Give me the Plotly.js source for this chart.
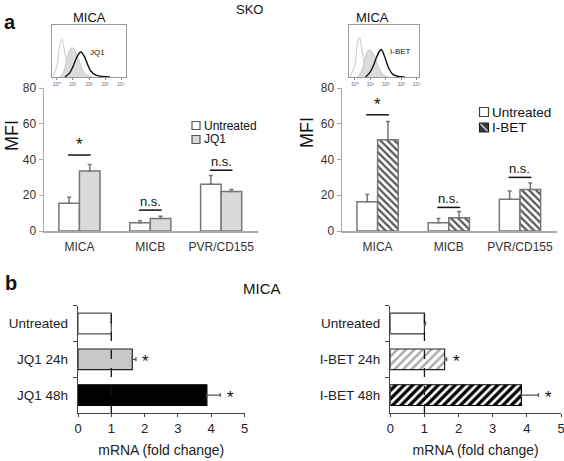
<!DOCTYPE html>
<html>
<head>
<meta charset="utf-8">
<script src="https://cdn.plot.ly/plotly-3.0.1.min.js"></script>
<style>html,body{margin:0;padding:0;background:#fff}#chart{width:564px;height:461px}</style>
</head>
<body>
<div id="chart"></div>
<script>
// ---------- data ----------
var markers = ['MICA', 'MICB', 'PVR/CD155'];
var untreatedA = [15.5, 4.6, 26.2];
var untreatedAErr = [3.4, 1.2, 4.8];
var jq1 = [33.5, 7.0, 22.1];
var jq1Err = [3.7, 1.3, 1.1];
var untreatedB = [16.3, 4.6, 17.8];
var untreatedBErr = [4.1, 2.4, 4.6];
var ibet = [51.0, 7.4, 23.2];
var ibetErr = [10.3, 3.5, 3.6];
var sigLabelsA = ['*', 'n.s.', 'n.s.'];
var sigLevelA = [42.5, 11.7, 34.0];
var sigLabelsB = ['*', 'n.s.', 'n.s.'];
var sigLevelB = [65.0, 13.2, 30.0];

var mrnaJQ1Cats = ['Untreated', 'JQ1 24h', 'JQ1 48h'];
var mrnaJQ1 = [1.0, 1.63, 3.87];
var mrnaJQ1Err = [0.0, 0.11, 0.40];
var mrnaJQ1Sig = ['', '*', '*'];
var mrnaIBETCats = ['Untreated', 'I-BET 24h', 'I-BET 48h'];
var mrnaIBET = [1.0, 1.59, 3.84];
var mrnaIBETErr = [0.03, 0.06, 0.50];
var mrnaIBETSig = ['', '*', '*'];

// flow histograms (log10 fluorescence, relative counts)
var histIsoA_x = [-0.25, 0.0, 0.15, 0.3, 0.45, 0.6, 0.8, 1.0, 1.25, 1.6];
var histIsoA_y = [0.0, 0.2, 0.55, 0.73, 0.55, 0.3, 0.12, 0.04, 0.01, 0.0];
var histUntA_x = [0.2, 0.45, 0.65, 0.85, 1.0, 1.2, 1.4, 1.6, 1.85, 2.2];
var histUntA_y = [0.0, 0.12, 0.38, 0.54, 0.56, 0.46, 0.3, 0.14, 0.04, 0.0];
var histJQ1_x = [0.5, 0.8, 1.0, 1.2, 1.4, 1.5, 1.7, 1.9, 2.1, 2.4, 2.8, 3.3];
var histJQ1_y = [0.0, 0.08, 0.2, 0.35, 0.46, 0.48, 0.4, 0.25, 0.12, 0.04, 0.01, 0.0];
var histIsoB_x = [-0.3, 0.0, 0.15, 0.3, 0.45, 0.6, 0.8, 1.0, 1.25, 1.6];
var histIsoB_y = [0.0, 0.22, 0.6, 0.76, 0.55, 0.3, 0.12, 0.04, 0.01, 0.0];
var histUntB_x = [0.2, 0.45, 0.65, 0.85, 1.0, 1.2, 1.4, 1.6, 1.85, 2.2];
var histUntB_y = [0.0, 0.12, 0.35, 0.5, 0.52, 0.44, 0.3, 0.14, 0.04, 0.0];
var histIBET_x = [0.7, 1.0, 1.2, 1.4, 1.6, 1.7, 1.85, 2.0, 2.2, 2.45, 2.8, 3.2];
var histIBET_y = [0.0, 0.1, 0.22, 0.38, 0.5, 0.53, 0.45, 0.32, 0.16, 0.05, 0.01, 0.0];
var decadeVals = [0, 1, 2, 3, 4];
var decadeText = ['10⁰', '10¹', '10²', '10³', '10⁴'];

// ---------- helpers ----------
var W = 564, H = 461;
function px(x) { return x / W; }
function py(y) { return 1 - y / H; }
var FONT = 'Liberation Sans, Arial, Helvetica, sans-serif';
function zeros(a) { return a.map(function () { return 0; }); }

var barLine = {color: '#777', width: 1.5};
var errTop = function (arr) {
  return {type: 'data', array: arr, arrayminus: zeros(arr), symmetric: false,
          color: '#777', thickness: 1.5, width: 2};
};
function errRight(arr, color) {
  return {type: 'data', array: arr, arrayminus: zeros(arr), symmetric: false,
          color: color || '#555', thickness: 1.3, width: 2};
}

// I-BET mRNA bars, one trace per bar so each gets its own hatch
var ibetStyles = [
  {fill: '#fff', line: '#333', pattern: null},
  {fill: '#fff', line: '#222', pattern: {shape: '/', fgcolor: '#a8a8a8', bgcolor: '#fff', size: 6, solidity: 0.4}},
  {fill: '#fff', line: '#000', pattern: {shape: '/', fgcolor: '#000', bgcolor: '#fff', size: 6, solidity: 0.55}}
];
var ibetTraces = mrnaIBETCats.map(function (c, i) {
  var mk = {color: ibetStyles[i].fill, line: {color: ibetStyles[i].line, width: 1.2}};
  if (ibetStyles[i].pattern) mk.pattern = ibetStyles[i].pattern;
  return {type: 'bar', orientation: 'h', y: [c], x: [mrnaIBET[i]], xaxis: 'x4', yaxis: 'y4', showlegend: false,
    offsetgroup: 'ibet', name: c, marker: mk, error_x: errRight([mrnaIBETErr[i]])};
});

var traces = [
  // panel a, JQ1
  {type: 'bar', x: markers, y: untreatedA, name: 'Untreated', xaxis: 'x', yaxis: 'y', showlegend: false,
   marker: {color: '#fff', line: barLine}, error_y: errTop(untreatedAErr)},
  {type: 'bar', x: markers, y: jq1, name: 'JQ1', xaxis: 'x', yaxis: 'y', showlegend: false,
   marker: {color: '#d9d9d9', line: barLine}, error_y: errTop(jq1Err)},
  // panel a, I-BET
  {type: 'bar', x: markers, y: untreatedB, name: 'Untreated', xaxis: 'x2', yaxis: 'y2', showlegend: false,
   marker: {color: '#fff', line: barLine}, error_y: errTop(untreatedBErr)},
  {type: 'bar', x: markers, y: ibet, name: 'I-BET', xaxis: 'x2', yaxis: 'y2', showlegend: false,
   marker: {color: '#fff', line: barLine,
            pattern: {shape: '\\', fgcolor: '#555', bgcolor: '#fff', size: 5, solidity: 0.45}},
   error_y: errTop(ibetErr)},
  // panel b, JQ1
  {type: 'bar', orientation: 'h', y: mrnaJQ1Cats, x: mrnaJQ1, xaxis: 'x3', yaxis: 'y3', showlegend: false,
   marker: {color: ['#fff', '#c8c8c8', '#000'], line: {color: ['#555', '#222', '#000'], width: 1.2}},
   error_x: errRight(mrnaJQ1Err)}
].concat(ibetTraces).concat([
  // insets
  {type: 'scatter', mode: 'lines', x: histIsoA_x, y: histIsoA_y, xaxis: 'x5', yaxis: 'y5', showlegend: false,
   line: {color: '#c8c8c8', width: 1, shape: 'spline'}},
  {type: 'scatter', mode: 'lines', x: histUntA_x, y: histUntA_y, xaxis: 'x5', yaxis: 'y5', showlegend: false,
   fill: 'tozeroy', fillcolor: '#dcdcdc', line: {color: '#c8c8c8', width: 1, shape: 'spline'}},
  {type: 'scatter', mode: 'lines', x: histJQ1_x, y: histJQ1_y, xaxis: 'x5', yaxis: 'y5', showlegend: false,
   line: {color: '#111', width: 1.4, shape: 'spline'}},
  {type: 'scatter', mode: 'lines', x: histIsoB_x, y: histIsoB_y, xaxis: 'x6', yaxis: 'y6', showlegend: false,
   line: {color: '#c8c8c8', width: 1, shape: 'spline'}},
  {type: 'scatter', mode: 'lines', x: histUntB_x, y: histUntB_y, xaxis: 'x6', yaxis: 'y6', showlegend: false,
   fill: 'tozeroy', fillcolor: '#dcdcdc', line: {color: '#c8c8c8', width: 1, shape: 'spline'}},
  {type: 'scatter', mode: 'lines', x: histIBET_x, y: histIBET_y, xaxis: 'x6', yaxis: 'y6', showlegend: false,
   line: {color: '#111', width: 1.4, shape: 'spline'}}
]);

var topY = {range: [0, 80], tickvals: [0, 20, 40, 60, 80], ticks: 'outside', ticklen: 4, tickcolor: '#aaa',
  showline: true, linecolor: '#aaa', linewidth: 1.5, showgrid: false, zeroline: false,
  tickfont: {size: 12, color: '#333'}};
var topX = {type: 'category', range: [-0.5, 2.52], showline: true, linecolor: '#aaa', linewidth: 1.5,
  ticks: '', showgrid: false, zeroline: false, tickfont: {size: 12, color: '#333'}, ticklabelstandoff: 4};
var botX = {range: [0, 5], tickvals: [0, 1, 2, 3, 4, 5], ticks: 'outside', ticklen: 3, tickcolor: '#444',
  showline: true, linecolor: '#444', linewidth: 1.2, showgrid: false, zeroline: false, ticklabeloverflow: 'allow',
  tickfont: {size: 13, color: '#222'}, title: {text: 'mRNA (fold change)', font: {size: 14, color: '#222'}, standoff: 10}};
var botY = {type: 'category', range: [2.5, -0.5], tickson: 'boundaries', ticks: 'outside', ticklen: 4,
  tickcolor: '#444', showline: true, linecolor: '#444', linewidth: 1.2, showgrid: false, zeroline: false,
  tickfont: {size: 13.5, color: '#222'}, ticklabelstandoff: 6};
var insetX = {tickvals: decadeVals, ticktext: decadeText, ticks: 'outside', ticklen: 2, tickcolor: '#888',
  showline: true, mirror: true, linecolor: '#999', linewidth: 1, showgrid: false, zeroline: false,
  tickfont: {size: 5, color: '#666'}, ticklabelstandoff: 0};
var insetY = {range: [0, 1], showticklabels: false, ticks: '', showline: true, mirror: true,
  linecolor: '#999', linewidth: 1, showgrid: false, zeroline: false};

function merge(a, b) { return Object.assign(JSON.parse(JSON.stringify(a)), b); }

var annotations = [];
var shapes = [];
function addSig(xref, yref, labels, levels) {
  labels.forEach(function (lab, i) {
    shapes.push({type: 'line', xref: xref, yref: yref, x0: i - 0.16, x1: i + 0.16, y0: levels[i], y1: levels[i],
      line: {color: '#111', width: 1.5}});
    annotations.push({xref: xref, yref: yref, x: i, y: levels[i], text: lab, showarrow: false,
      yanchor: 'bottom', yshift: -1, font: {family: FONT, size: lab === '*' ? 17 : 13, color: '#111'}});
  });
}
addSig('x', 'y', sigLabelsA, sigLevelA);
addSig('x2', 'y2', sigLabelsB, sigLevelB);
function addStars(xref, yref, labels, vals, errs) {
  labels.forEach(function (lab, i) {
    if (!lab) return;
    annotations.push({xref: xref, yref: yref, x: vals[i] + errs[i] + 0.3, y: i, text: lab, showarrow: false,
      font: {family: FONT, size: 17, color: '#111'}, yshift: -2});
  });
}
addStars('x3', 'y3', mrnaJQ1Sig, mrnaJQ1, mrnaJQ1Err);
addStars('x4', 'y4', mrnaIBETSig, mrnaIBET, mrnaIBETErr);
shapes.push({type: 'line', xref: 'x3', yref: 'y3 domain', x0: 1, x1: 1, y0: 0, y1: 1, line: {color: '#111', width: 1.3, dash: 'dash'}});
shapes.push({type: 'line', xref: 'x4', yref: 'y4 domain', x0: 1, x1: 1, y0: 0, y1: 1, line: {color: '#111', width: 1.3, dash: 'dash'}});

function txt(x, y, t, size, bold, anchor, angle) {
  annotations.push({xref: 'paper', yref: 'paper', x: px(x), y: py(y), text: bold ? '<b>' + t + '</b>' : t,
    showarrow: false, xanchor: anchor || 'center', yanchor: 'middle', textangle: angle || 0, borderpad: 0,
    font: {family: FONT, size: size, color: '#111'}});
}
txt(10, 22, 'a', 20, true);
txt(250, 10, 'SKO', 13);
txt(89, 17, 'MICA', 13);
txt(372, 17, 'MICA', 13);
txt(89, 53, 'JQ1', 8, false, 'left');
txt(389, 51, 'I-BET', 8, false, 'left');
txt(11, 283, 'b', 20, true);
txt(262, 288, 'MICA', 15);
// y-axis titles of panel a
txt(12, 136, 'MFI', 18, false, 'center', -90);
txt(307, 133, 'MFI', 18, false, 'center', -90);

// legends (drawn key boxes + text)
function legendBox(cx, cy, s, fill, line) {
  shapes.push({type: 'rect', xref: 'paper', yref: 'paper', x0: px(cx - s / 2), x1: px(cx + s / 2),
    y0: py(cy + s / 2), y1: py(cy - s / 2), fillcolor: fill, line: {color: line, width: 1.2}});
}
legendBox(196, 125.5, 8, '#fff', '#555');
legendBox(196, 139.5, 8, '#d9d9d9', '#555');
txt(203, 125.5, 'Untreated', 12, false, 'left');
txt(203, 139.5, 'JQ1', 12, false, 'left');
legendBox(484, 112, 9, '#fff', '#444');
legendBox(484, 127.5, 9, '#3a3a3a', '#222');
shapes.push({type: 'line', xref: 'paper', yref: 'paper', x0: px(480.5), x1: px(487.5), y0: py(124), y1: py(131),
  line: {color: '#ddd', width: 1.3}});
txt(491, 112, 'Untreated', 13.5, false, 'left');
txt(491, 127.5, 'I-BET', 13.5, false, 'left');

var layout = {
  width: W, height: H, margin: {l: 0, r: 0, t: 0, b: 0}, paper_bgcolor: '#fff', plot_bgcolor: 'rgba(0,0,0,0)',
  font: {family: FONT, color: '#222'}, showlegend: false,
  barmode: 'group', bargap: 0.42, bargroupgap: 0,
  xaxis: merge(topX, {domain: [px(44), px(258)], anchor: 'y'}),
  yaxis: merge(topY, {domain: [py(231), py(88)], anchor: 'x'}),
  xaxis2: merge(topX, {domain: [px(342), px(557)], anchor: 'y2'}),
  yaxis2: merge(topY, {domain: [py(231), py(88)], anchor: 'x2'}),
  xaxis3: merge(botX, {domain: [px(78), px(244.5)], anchor: 'y3'}),
  yaxis3: merge(botY, {domain: [py(413), py(305.7)], anchor: 'x3'}),
  xaxis4: merge(botX, {domain: [px(390.3), px(561)], anchor: 'y4'}),
  yaxis4: merge(botY, {domain: [py(413), py(305.7)], anchor: 'x4'}),
  xaxis5: merge(insetX, {range: [-0.3, 4.3], domain: [px(52), px(126)], anchor: 'y5'}),
  yaxis5: merge(insetY, {domain: [py(77), py(25)], anchor: 'x5'}),
  xaxis6: merge(insetX, {range: [-0.37, 4.13], domain: [px(349), px(419)], anchor: 'y6'}),
  yaxis6: merge(insetY, {domain: [py(77), py(25)], anchor: 'x6'}),
  annotations: annotations, shapes: shapes
};

Plotly.newPlot('chart', traces, layout, {staticPlot: true, displayModeBar: false});
</script>
</body>
</html>
